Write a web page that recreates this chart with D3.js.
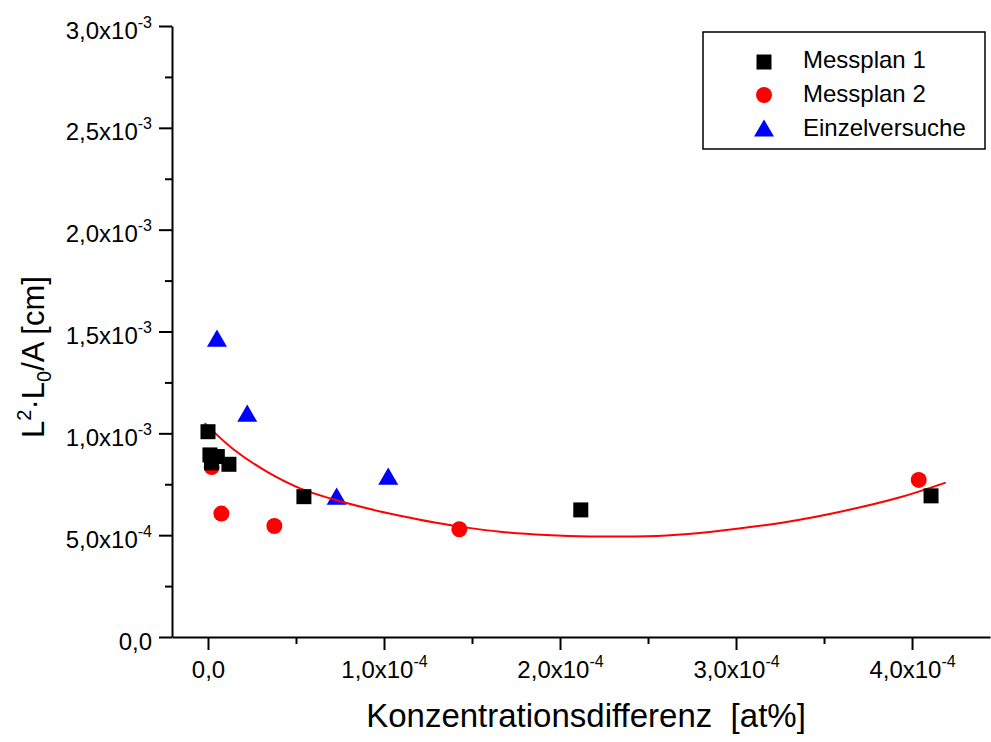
<!DOCTYPE html>
<html>
<head>
<meta charset="utf-8">
<script src="https://cdn.jsdelivr.net/npm/d3@7"></script>
<style>
  html, body { margin: 0; padding: 0; background: #fff; }
  svg { display: block; font-family: "Liberation Sans", Arial, sans-serif; }
</style>
</head>
<body>
<svg id="chart" width="991" height="742"></svg>
<script>
// ---------------- data ----------------
const seriesNames = ["Messplan 1", "Messplan 2", "Einzelversuche"];

const messplan1X = [0.000e-4, 0.011e-4, 0.053e-4, 0.020e-4, 0.119e-4, 0.545e-4, 2.118e-4, 4.108e-4];
const messplan1Y = [1.008e-3, 0.894e-3, 0.886e-3, 0.855e-3, 0.848e-3, 0.689e-3, 0.624e-3, 0.693e-3];

const messplan2X = [0.021e-4, 0.076e-4, 0.377e-4, 1.428e-4, 4.038e-4];
const messplan2Y = [0.834e-3, 0.606e-3, 0.545e-3, 0.529e-3, 0.771e-3];

const einzelX = [0.051e-4, 0.223e-4, 0.731e-4, 1.024e-4];
const einzelY = [1.467e-3, 1.099e-3, 0.692e-3, 0.790e-3];

// fit curve
const fitX = [-0.019e-4, 0.144e-4, 0.334e-4, 0.523e-4, 0.712e-4, 0.902e-4, 1.091e-4, 1.280e-4, 1.470e-4, 1.659e-4, 1.920e-4, 2.170e-4, 2.606e-4, 3.174e-4, 3.553e-4, 3.932e-4, 4.191e-4];
const fitY = [1.050e-3, 0.922e-3, 0.812e-3, 0.730e-3, 0.676e-3, 0.632e-3, 0.595e-3, 0.563e-3, 0.537e-3, 0.517e-3, 0.501e-3, 0.494e-3, 0.498e-3, 0.550e-3, 0.608e-3, 0.686e-3, 0.758e-3];

const xTicks = [0, 1e-4, 2e-4, 3e-4, 4e-4];
const xTickMantissa = ["0,0", "1,0x10", "2,0x10", "3,0x10", "4,0x10"];
const xTickExp = ["", "-4", "-4", "-4", "-4"];
const xMinorTicks = [0.5e-4, 1.5e-4, 2.5e-4, 3.5e-4];

const yTicks = [0, 0.5e-3, 1.0e-3, 1.5e-3, 2.0e-3, 2.5e-3, 3.0e-3];
const yTickMantissa = ["0,0", "5,0x10", "1,0x10", "1,5x10", "2,0x10", "2,5x10", "3,0x10"];
const yTickExp = ["", "-4", "-3", "-3", "-3", "-3", "-3"];
const yMinorTicks = [0.25e-3, 0.75e-3, 1.25e-3, 1.75e-3, 2.25e-3, 2.75e-3];

// ---------------- layout ----------------
const svg = d3.select("#chart");
const x = d3.scaleLinear().domain([-0.2045e-4, 4.443e-4]).range([172, 990]);
const y = d3.scaleLinear().domain([0, 3.0e-3]).range([637, 26]);

const colors = ["#000000", "#ff0000", "#0000ff"];
const FONT = "'Liberation Sans', Arial, sans-serif";

// custom triangle centred on its bounding box
const triBox = {
  draw(ctx, size) {
    const w = Math.sqrt(size), h = w * 0.86;
    ctx.moveTo(0, -h / 2);
    ctx.lineTo(w / 2, h / 2);
    ctx.lineTo(-w / 2, h / 2);
    ctx.closePath();
  }
};
const symbols = [
  d3.symbol().type(d3.symbolSquare).size(225),
  d3.symbol().type(d3.symbolCircle).size(200),
  d3.symbol().type(triBox).size(400)
];

function labelWithExp(sel, mant, exp) {
  sel.each(function(d, i) {
    const t = d3.select(this);
    t.text(null);
    t.append("tspan").text(mant[i]);
    if (exp[i]) {
      t.append("tspan").attr("font-size", 16).attr("dy", -11).text(exp[i]);
    }
  });
}

// X axis
const gx = svg.append("g").attr("transform", `translate(0,${y(0)})`);
gx.call(d3.axisBottom(x).tickValues(xTicks).tickSize(13).tickSizeOuter(0).tickPadding(12).tickFormat(""));
gx.attr("font-family", FONT);
gx.select(".domain").attr("stroke-width", 2);
gx.selectAll(".tick line").attr("stroke-width", 2);
gx.selectAll(".tick text")
  .attr("font-size", 24).attr("fill", "#000")
  .call(labelWithExp, xTickMantissa, xTickExp)
  .attr("dy", "0.67em");
const gxm = svg.append("g").attr("transform", `translate(0,${y(0)})`);
gxm.call(d3.axisBottom(x).tickValues(xMinorTicks).tickSize(7).tickFormat(""));
gxm.select(".domain").remove();
gxm.selectAll(".tick line").attr("stroke-width", 2);

// Y axis
const gy = svg.append("g").attr("transform", `translate(${x.range()[0]},0)`);
gy.call(d3.axisLeft(y).tickValues(yTicks).tickSize(13).tickSizeOuter(0).tickPadding(7).tickFormat(""));
gy.attr("font-family", FONT);
gy.select(".domain").attr("stroke-width", 2);
gy.selectAll(".tick line").attr("stroke-width", 2);
gy.selectAll(".tick text")
  .attr("font-size", 24).attr("fill", "#000")
  .call(labelWithExp, yTickMantissa, yTickExp)
  .attr("dy", "0.5em");
const gym = svg.append("g").attr("transform", `translate(${x.range()[0]},0)`);
gym.call(d3.axisLeft(y).tickValues(yMinorTicks).tickSize(7).tickFormat(""));
gym.select(".domain").remove();
gym.selectAll(".tick line").attr("stroke-width", 2);

// Axis titles
svg.append("text")
  .attr("x", 586).attr("y", 727)
  .attr("text-anchor", "middle")
  .attr("font-size", 33)
  .style("white-space", "pre")
  .attr("xml:space", "preserve")
  .text("Konzentrationsdifferenz  [at%]");

const yt = svg.append("text")
  .attr("transform", "translate(44,357) rotate(-90)")
  .attr("text-anchor", "middle")
  .attr("font-size", 31);
yt.append("tspan").text("L");
yt.append("tspan").attr("font-size", 20).attr("dy", -13).text("2");
yt.append("tspan").attr("dy", 13).text("·L");
yt.append("tspan").attr("font-size", 20).attr("dy", 7).text("0");
yt.append("tspan").attr("dy", -7).text("/A [cm]");

// ---------------- marks ----------------
const s1 = messplan1X.map((v, i) => ({x: v, y: messplan1Y[i]}));
const s2 = messplan2X.map((v, i) => ({x: v, y: messplan2Y[i]}));
const s3 = einzelX.map((v, i) => ({x: v, y: einzelY[i]}));
const fit = fitX.map((v, i) => ({x: v, y: fitY[i]}));

function drawPoints(data, k) {
  svg.append("g").selectAll("path").data(data).join("path")
    .attr("transform", d => `translate(${x(d.x)},${y(d.y)})`)
    .attr("d", symbols[k]())
    .attr("fill", colors[k]);
}

drawPoints(s3, 2);
svg.append("path")
  .datum(fit)
  .attr("fill", "none")
  .attr("stroke", "#ff0000")
  .attr("stroke-width", 2)
  .attr("d", d3.line().x(d => x(d.x)).y(d => y(d.y)).curve(d3.curveCatmullRom.alpha(0.5)));
drawPoints(s2, 1);
drawPoints(s1, 0);

// ---------------- legend ----------------
const lg = svg.append("g");
lg.append("rect")
  .attr("x", 703).attr("y", 32).attr("width", 282).attr("height", 117)
  .attr("fill", "#fff").attr("stroke", "#000").attr("stroke-width", 1.5);
seriesNames.forEach((name, k) => {
  const cy = 62 + k * 33;
  lg.append("path")
    .attr("transform", `translate(764,${cy})`)
    .attr("d", symbols[k]())
    .attr("fill", colors[k]);
  lg.append("text")
    .attr("x", 803).attr("y", cy + 6 + k)
    .attr("font-size", 24)
    .text(name);
});
</script>
</body>
</html>
